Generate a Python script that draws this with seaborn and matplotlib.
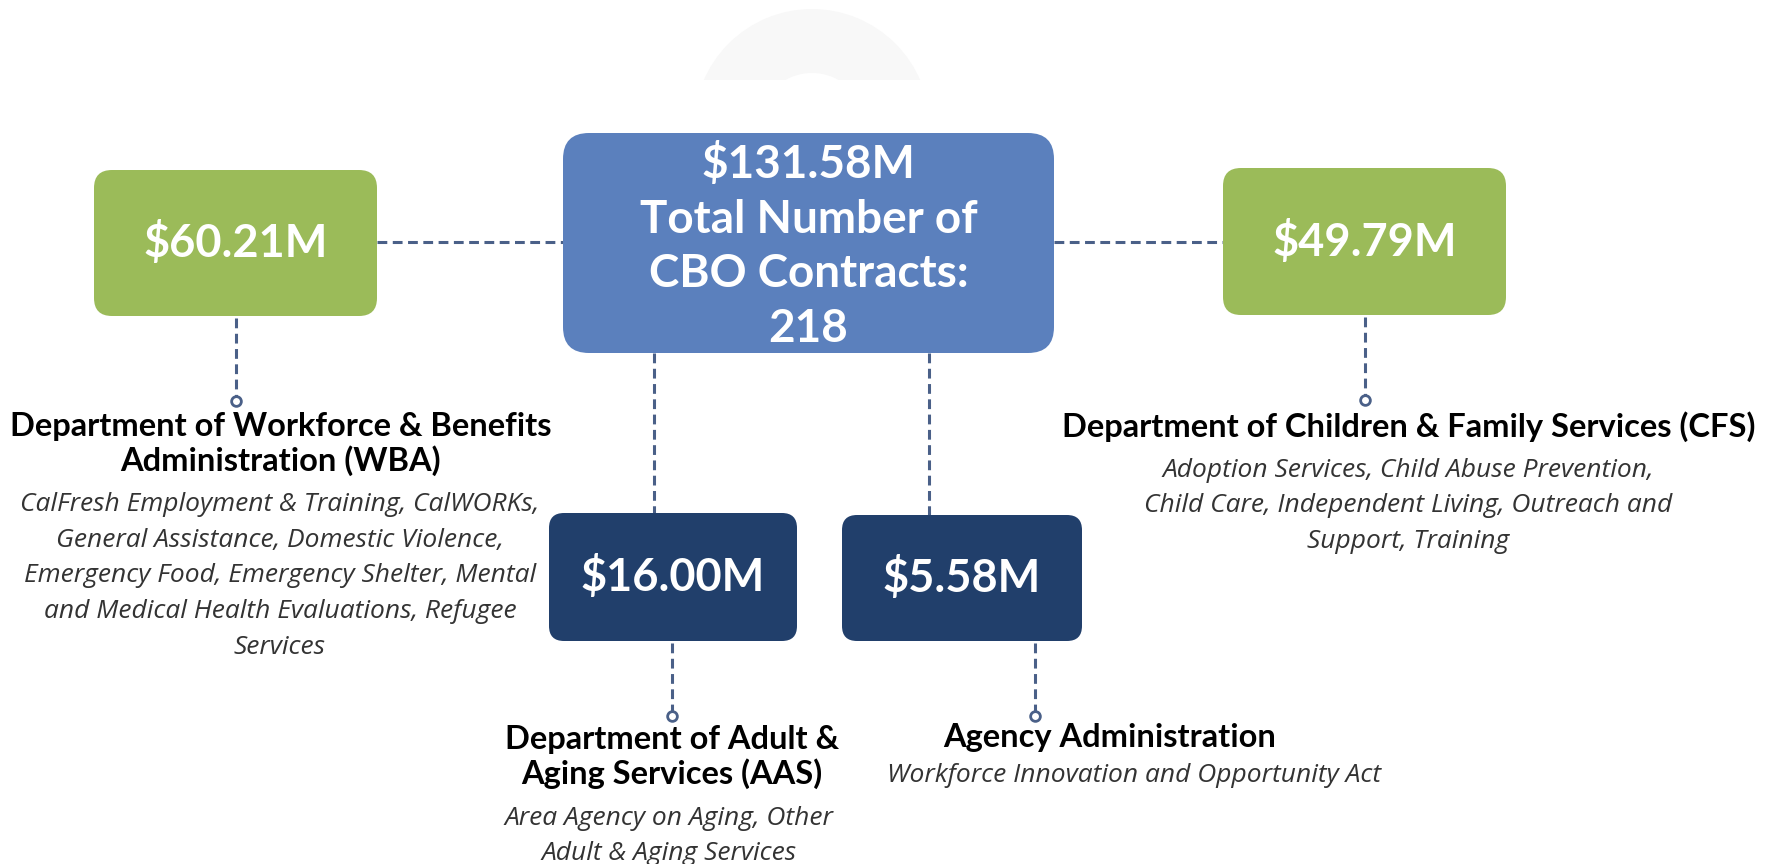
import matplotlib.pyplot as plt
import seaborn as sns
from matplotlib.patches import FancyBboxPatch, Wedge, Rectangle

sns.set_theme(style="white")
plt.rcParams['font.family'] = ['Lato', 'DejaVu Sans']

# data
total_amount = '$131.58M'
total_contracts = 218
amounts = ['$60.21M', '$49.79M', '$16.00M', '$5.58M']
departments = ['Department of Workforce & Benefits\nAdministration (WBA)',
               'Department of Children & Family Services (CFS)',
               'Department of Adult &\nAging Services (AAS)',
               'Agency Administration']
programs = ['CalFresh Employment & Training, CalWORKs,\nGeneral Assistance, Domestic Violence,\n'
            'Emergency Food, Emergency Shelter, Mental\nand Medical Health Evaluations, Refugee\nServices',
            'Adoption Services, Child Abuse Prevention,\nChild Care, Independent Living, Outreach and\n'
            'Support, Training',
            'Area Agency on Aging, Other\nAdult & Aging Services',
            'Workforce Innovation and Opportunity Act']

# layout (pixel coords, y down)
green = '#9bbb59'
blue = '#5b80bd'
navy = '#213f6b'
line_col = '#4a6088'

boxes = [  # x0, y0, x1, y1, colour, radius
    (94, 170, 377, 316, green, 18),
    (1223, 168, 1506, 315, green, 18),
    (549, 513, 797, 641, navy, 15),
    (842, 515, 1082, 641, navy, 15),
]
center_box = (563, 133, 1054, 353)

# connector from each box down to a small circle, and label anchor
stems = [(236, 316, 401), (1365, 315, 400), (672, 641, 716), (1035, 641, 716)]
title_pos = [(281, 444), (1409, 427), (672, 757), (1110, 738)]
prog_pos = [(280, 576), (1408, 506), (669, 836), (1134, 776)]

fig = plt.figure(figsize=(17.72, 8.64), dpi=100)
ax = fig.add_axes([0, 0, 1, 1])
ax.set_xlim(0, 1772)
ax.set_ylim(864, 0)
ax.axis('off')

# faint half ring at the top
ring = Wedge((812, 127), 118, 0, 360, width=64, facecolor='#f8f8f8', edgecolor='none')
ax.add_patch(ring)
ring.set_clip_path(Rectangle((600, 0), 400, 80, transform=ax.transData))


def rbox(x0, y0, x1, y1, colour, r):
    ax.add_patch(FancyBboxPatch((x0, y0), x1 - x0, y1 - y0,
                                boxstyle=f'round,pad=0,rounding_size={r}',
                                facecolor=colour, edgecolor='none', zorder=3))


dash = dict(color=line_col, lw=2.2, ls=(0, (3.2, 1.8)), zorder=2)

# horizontal links
ax.plot([377, 563], [242, 242], **dash)
ax.plot([1054, 1223], [242, 242], **dash)
# vertical links from centre box
ax.plot([654, 654], [353, 513], **dash)
ax.plot([929, 929], [353, 515], **dash)

cx0, cy0, cx1, cy1 = center_box
rbox(cx0, cy0, cx1, cy1, blue, 26)
ax.text((cx0 + cx1) / 2, (cy0 + cy1) / 2 + 3,
        f'{total_amount}\nTotal Number of\nCBO Contracts:\n{total_contracts}',
        ha='center', va='center', color='white', fontsize=33, fontweight='bold',
        linespacing=1.37, zorder=4)

for (x0, y0, x1, y1, c, r), amt, (sx, sy0, sy1), name, (tx, ty), prog, (px, py) in zip(
        boxes, amounts, stems, departments, title_pos, programs, prog_pos):
    rbox(x0, y0, x1, y1, c, r)
    ax.text((x0 + x1) / 2, (y0 + y1) / 2, amt, ha='center', va='center',
            color='white', fontsize=32.5, fontweight='bold', zorder=4)
    ax.plot([sx, sx], [sy0 + 2, sy1 - 4], **dash)
    ax.plot(sx, sy1, 'o', ms=7, mfc='white', mec=line_col, mew=2, zorder=3)
    ax.text(tx, ty, name, ha='center', va='center', color='black',
            fontsize=23.5, fontweight='bold', linespacing=1.14)
    ax.text(px, py, prog, ha='center', va='center', color='#333333',
            fontsize=19, style='italic', family=['Open Sans', 'DejaVu Sans'],
            linespacing=1.56)

fig.savefig('out.png', dpi=100, facecolor='white')
